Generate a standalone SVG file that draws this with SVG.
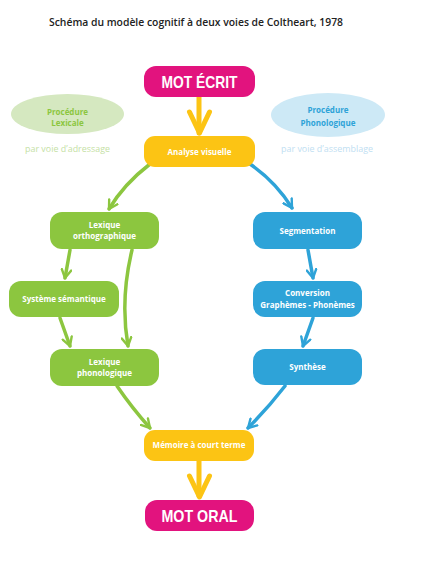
<svg xmlns="http://www.w3.org/2000/svg" width="426" height="574" viewBox="0 0 426 574">
<defs>
<marker id="ag" viewBox="0 0 10 10" refX="8" refY="5" markerWidth="12" markerHeight="12" markerUnits="userSpaceOnUse" orient="auto"><path d="M1,1 L8,5 L1,9" fill="none" stroke="#8cc63f" stroke-width="2" stroke-linecap="round" stroke-linejoin="round"/></marker>
<marker id="ab" viewBox="0 0 10 10" refX="8" refY="5" markerWidth="12" markerHeight="12" markerUnits="userSpaceOnUse" orient="auto"><path d="M1,1 L8,5 L1,9" fill="none" stroke="#2ea3d8" stroke-width="2" stroke-linecap="round" stroke-linejoin="round"/></marker>
</defs>
<style>
.t{font-family:"Open Sans","Liberation Sans",sans-serif;font-weight:bold;fill:#fff;text-anchor:middle}
.s{font-size:8px}
.big{font-family:"Liberation Sans",sans-serif;font-weight:bold;font-size:17px;fill:#fff;text-anchor:middle}
.sub{font-family:"Open Sans","Liberation Sans",sans-serif;font-size:8.5px;text-anchor:middle}
.g{fill:#8cc63f}.b{fill:#2ea3d8}.y{fill:#fcc414}.m{fill:#e2137e}
.cg{fill:none;stroke:#8cc63f;stroke-width:3.5;stroke-linecap:round}
.cb{fill:none;stroke:#2ea3d8;stroke-width:3.5;stroke-linecap:round}
.cy{fill:none;stroke:#fcc414;stroke-width:5;stroke-linecap:round;stroke-linejoin:round}
</style>
<rect width="426" height="574" fill="#fff"/>
<text x="196" y="26" font-family="Open Sans, Liberation Sans, sans-serif" font-size="10.5" font-weight="600" fill="#222" text-anchor="middle" textLength="294" lengthAdjust="spacingAndGlyphs">Schéma du modèle cognitif à deux voies de Coltheart, 1978</text>

<g id="proc-lex">
<ellipse cx="67.5" cy="114" rx="56.5" ry="20" fill="#d5e8c0"/>
<text class="t s" x="67.5" y="115" style="fill:#8cc63f">Procédure</text>
<text class="t s" x="67.5" y="126" style="fill:#8cc63f">Lexicale</text>
<text class="sub" x="67.5" y="152" fill="#c5dfa5" textLength="85" lengthAdjust="spacingAndGlyphs">par voie d’adressage</text>
</g>
<g id="proc-phon">
<ellipse cx="328" cy="115" rx="57" ry="22" fill="#cde9f6"/>
<text class="t s" x="328" y="113" style="fill:#2ea3d8">Procédure</text>
<text class="t s" x="328" y="126" style="fill:#2ea3d8">Phonologique</text>
<text class="sub" x="327" y="152" fill="#bfe0f2" textLength="92" lengthAdjust="spacingAndGlyphs">par voie d’assemblage</text>
</g>

<g id="connectors">
<path class="cy" d="M199,97 V133"/>
<path class="cy" d="M189.5,112 L199.5,133 L209.5,112"/>
<path class="cy" d="M199,461 V496"/>
<path class="cy" d="M189.5,476 L199.5,497 L209.5,476"/>
<path class="cg" d="M150,164 Q124,184 109,209" marker-end="url(#ag)"/>
<path class="cg" d="M70,250 L65,278" marker-end="url(#ag)"/>
<path class="cg" d="M132,250 Q120,300 128,346" marker-end="url(#ag)"/>
<path class="cg" d="M60,318 L70,346" marker-end="url(#ag)"/>
<path class="cg" d="M117,386 Q132,408 150,428" marker-end="url(#ag)"/>
<path class="cb" d="M250,164 Q276,182 292,208" marker-end="url(#ab)"/>
<path class="cb" d="M308,250 L313,278" marker-end="url(#ab)"/>
<path class="cb" d="M313,318 L303,346" marker-end="url(#ab)"/>
<path class="cb" d="M285,386 Q268,408 248,428" marker-end="url(#ab)"/>
</g>

<g id="mot-ecrit">
<rect class="m" x="144" y="66" width="111" height="31" rx="12"/>
<text class="big" x="199.5" y="88" textLength="76" lengthAdjust="spacingAndGlyphs">MOT ÉCRIT</text>
</g>
<g id="analyse">
<rect class="y" x="144" y="136" width="111" height="31" rx="11"/>
<text class="t s" x="199.5" y="154.5">Analyse visuelle</text>
</g>
<g id="lex-ortho">
<rect class="g" x="50" y="212" width="109" height="37" rx="12"/>
<text class="t s" x="104.5" y="228">Lexique</text>
<text class="t s" x="104.5" y="239">orthographique</text>
</g>
<g id="semantique">
<rect class="g" x="9" y="281" width="110" height="36" rx="12"/>
<text class="t s" x="64" y="302">Système sémantique</text>
</g>
<g id="lex-phono">
<rect class="g" x="50" y="349" width="109" height="37" rx="12"/>
<text class="t s" x="104.5" y="365">Lexique</text>
<text class="t s" x="104.5" y="376">phonologique</text>
</g>
<g id="segmentation">
<rect class="b" x="253" y="212" width="109" height="37" rx="12"/>
<text class="t s" x="307.5" y="234">Segmentation</text>
</g>
<g id="conversion">
<rect class="b" x="253" y="281" width="109" height="36" rx="12"/>
<text class="t s" x="307.5" y="296">Conversion</text>
<text class="t s" x="307.5" y="308">Graphèmes - Phonèmes</text>
</g>
<g id="synthese">
<rect class="b" x="253" y="349" width="109" height="36" rx="12"/>
<text class="t s" x="307.5" y="370">Synthèse</text>
</g>
<g id="memoire">
<rect class="y" x="144" y="430" width="110" height="31" rx="11"/>
<text class="t s" x="199" y="448">Mémoire à court terme</text>
</g>
<g id="mot-oral">
<rect class="m" x="145" y="500" width="109" height="31" rx="12"/>
<text class="big" x="199.5" y="521.5" textLength="76" lengthAdjust="spacingAndGlyphs">MOT ORAL</text>
</g>
</svg>
